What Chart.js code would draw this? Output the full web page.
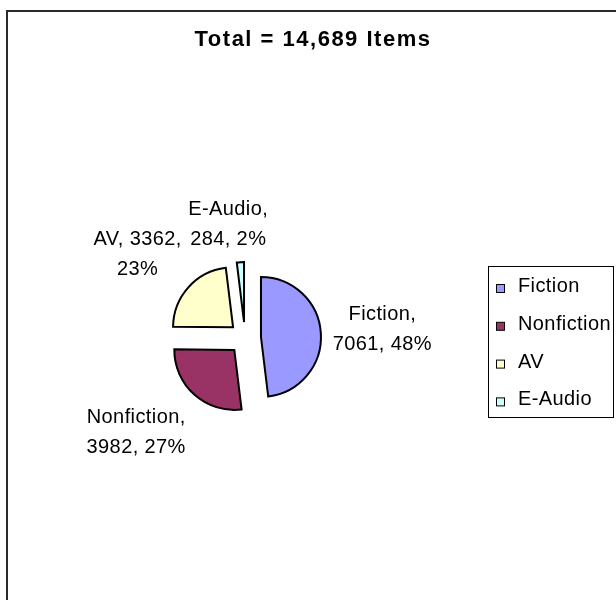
<!DOCTYPE html>
<html><head><meta charset="utf-8">
<script src="https://cdn.jsdelivr.net/npm/chart.js@4.4.0/dist/chart.umd.min.js"></script>
<style>html,body{margin:0;padding:0;background:#fff;}#wrap{width:616px;height:600px;}</style>
</head><body><div id="wrap"><canvas id="c" width="616" height="600"></canvas></div>
<script>
// ---- data ----
const categories = ['Fiction', 'Nonfiction', 'AV', 'E-Audio'];
const itemCounts = [7061, 3982, 3362, 284];
const sliceColors = ['#9999FF', '#993366', '#FFFFCC', '#CCFFFF'];
const titleUnit = 'Items';

// ---- layout / style ----
const FONT = '"Liberation Sans", Arial, Helvetica, sans-serif';
const RADIUS = 60;
const EXPLODE = 16;
const LABEL_GAP = 12;
const LABEL_WRAP = 105;
const LINE_PITCH = 30;
const CAP = 14.3;
const labelNudges = [[0, -3], [-17, 11], [-9, -12], [-9, -5]];

const total = itemCounts.reduce((s, v) => s + v, 0);

function wrapWords(ctx, text, maxW) {
  const words = text.split(' ');
  const lines = [];
  let cur = '';
  for (const w of words) {
    const test = cur ? cur + ' ' + w : w;
    if (cur && ctx.measureText(test).width > maxW) { lines.push(cur); cur = w; }
    else cur = test;
  }
  if (cur) lines.push(cur);
  return lines;
}

const framePlugin = {
  id: 'frame',
  beforeDraw(chart) {
    const ctx = chart.ctx;
    ctx.save();
    ctx.fillStyle = '#fff';
    ctx.fillRect(0, 0, chart.width, chart.height);
    ctx.strokeStyle = '#2a2a2a';
    ctx.lineWidth = 2;
    ctx.beginPath();
    ctx.moveTo(7, chart.height);
    ctx.lineTo(7, 11);
    ctx.lineTo(chart.width, 11);
    ctx.stroke();
    ctx.restore();
  }
};

const explodePlugin = {
  id: 'explode',
  beforeDatasetDraw(chart, args) {
    args.meta.data.forEach(a => {
      const m = (a.startAngle + a.endAngle) / 2;
      a._ox = a.x; a._oy = a.y;
      a.x += Math.cos(m) * EXPLODE;
      a.y += Math.sin(m) * EXPLODE;
    });
  },
  afterDatasetDraw(chart, args) {
    args.meta.data.forEach(a => { a.x = a._ox; a.y = a._oy; });
  }
};

const labelPlugin = {
  id: 'sliceLabels',
  afterDatasetsDraw(chart) {
    const ctx = chart.ctx;
    const meta = chart.getDatasetMeta(0);
    ctx.save();
    ctx.font = '20px ' + FONT;
    if ('letterSpacing' in ctx) ctx.letterSpacing = '0.4px';
    ctx.fillStyle = '#000';
    ctx.textAlign = 'center';
    ctx.textBaseline = 'alphabetic';
    meta.data.forEach((a, i) => {
      const v = itemCounts[i];
      const pct = Math.round(v / total * 100);
      const text = categories[i] + ', ' + v + ', ' + pct + '%';
      const lines = wrapWords(ctx, text, LABEL_WRAP);
      const w = Math.max(...lines.map(l => ctx.measureText(l).width));
      const h = (lines.length - 1) * LINE_PITCH + CAP;
      const m = (a.startAngle + a.endAngle) / 2;
      const dx = Math.cos(m), dy = Math.sin(m);
      const d = RADIUS + EXPLODE + LABEL_GAP;
      const cx = a.x + dx * d + dx * w / 2 + labelNudges[i][0];
      const cy = a.y + dy * d + dy * h / 2 + labelNudges[i][1];
      lines.forEach((l, k) => {
        ctx.fillText(l, cx, cy - h / 2 + CAP + k * LINE_PITCH);
      });
    });
    ctx.restore();
  }
};

const legendPlugin = {
  id: 'boxLegend',
  afterDraw(chart) {
    const ctx = chart.ctx;
    ctx.save();
    ctx.strokeStyle = '#000';
    ctx.lineWidth = 1;
    ctx.strokeRect(488.5, 266.5, 125, 151);
    ctx.font = '20px ' + FONT;
    if ('letterSpacing' in ctx) ctx.letterSpacing = '0.4px';
    ctx.textAlign = 'left';
    ctx.textBaseline = 'alphabetic';
    categories.forEach((c, i) => {
      const base = 292 + i * 37.8;
      ctx.fillStyle = sliceColors[i];
      ctx.fillRect(496.5, base - 7.5, 8, 8);
      ctx.strokeStyle = '#000';
      ctx.strokeRect(496.5, base - 7.5, 8, 8);
      ctx.fillStyle = '#000';
      ctx.fillText(c, 518, base);
    });
    ctx.restore();
  }
};

const titlePlugin = {
  id: 'bigTitle',
  afterDraw(chart) {
    const ctx = chart.ctx;
    ctx.save();
    ctx.font = 'bold 22px ' + FONT;
    if ('letterSpacing' in ctx) ctx.letterSpacing = '1.5px';
    ctx.fillStyle = '#000';
    ctx.textAlign = 'center';
    ctx.textBaseline = 'alphabetic';
    ctx.fillText('Total = ' + total.toLocaleString('en-US') + ' ' + titleUnit, 313, 46);
    ctx.restore();
  }
};

new Chart(document.getElementById('c').getContext('2d'), {
  type: 'pie',
  data: {
    labels: categories,
    datasets: [{
      data: itemCounts,
      backgroundColor: sliceColors,
      borderColor: '#000',
      borderWidth: 2,
      borderJoinStyle: 'miter',
      radius: RADIUS
    }]
  },
  options: {
    responsive: false,
    animation: false,
    devicePixelRatio: 1,
    rotation: 0,
    events: [],
    layout: { padding: { left: 0, right: 126, top: 76, bottom: 0 } },
    plugins: { legend: { display: false }, title: { display: false }, tooltip: { enabled: false } }
  },
  plugins: [framePlugin, explodePlugin, labelPlugin, legendPlugin, titlePlugin]
});
</script>
</body></html>
